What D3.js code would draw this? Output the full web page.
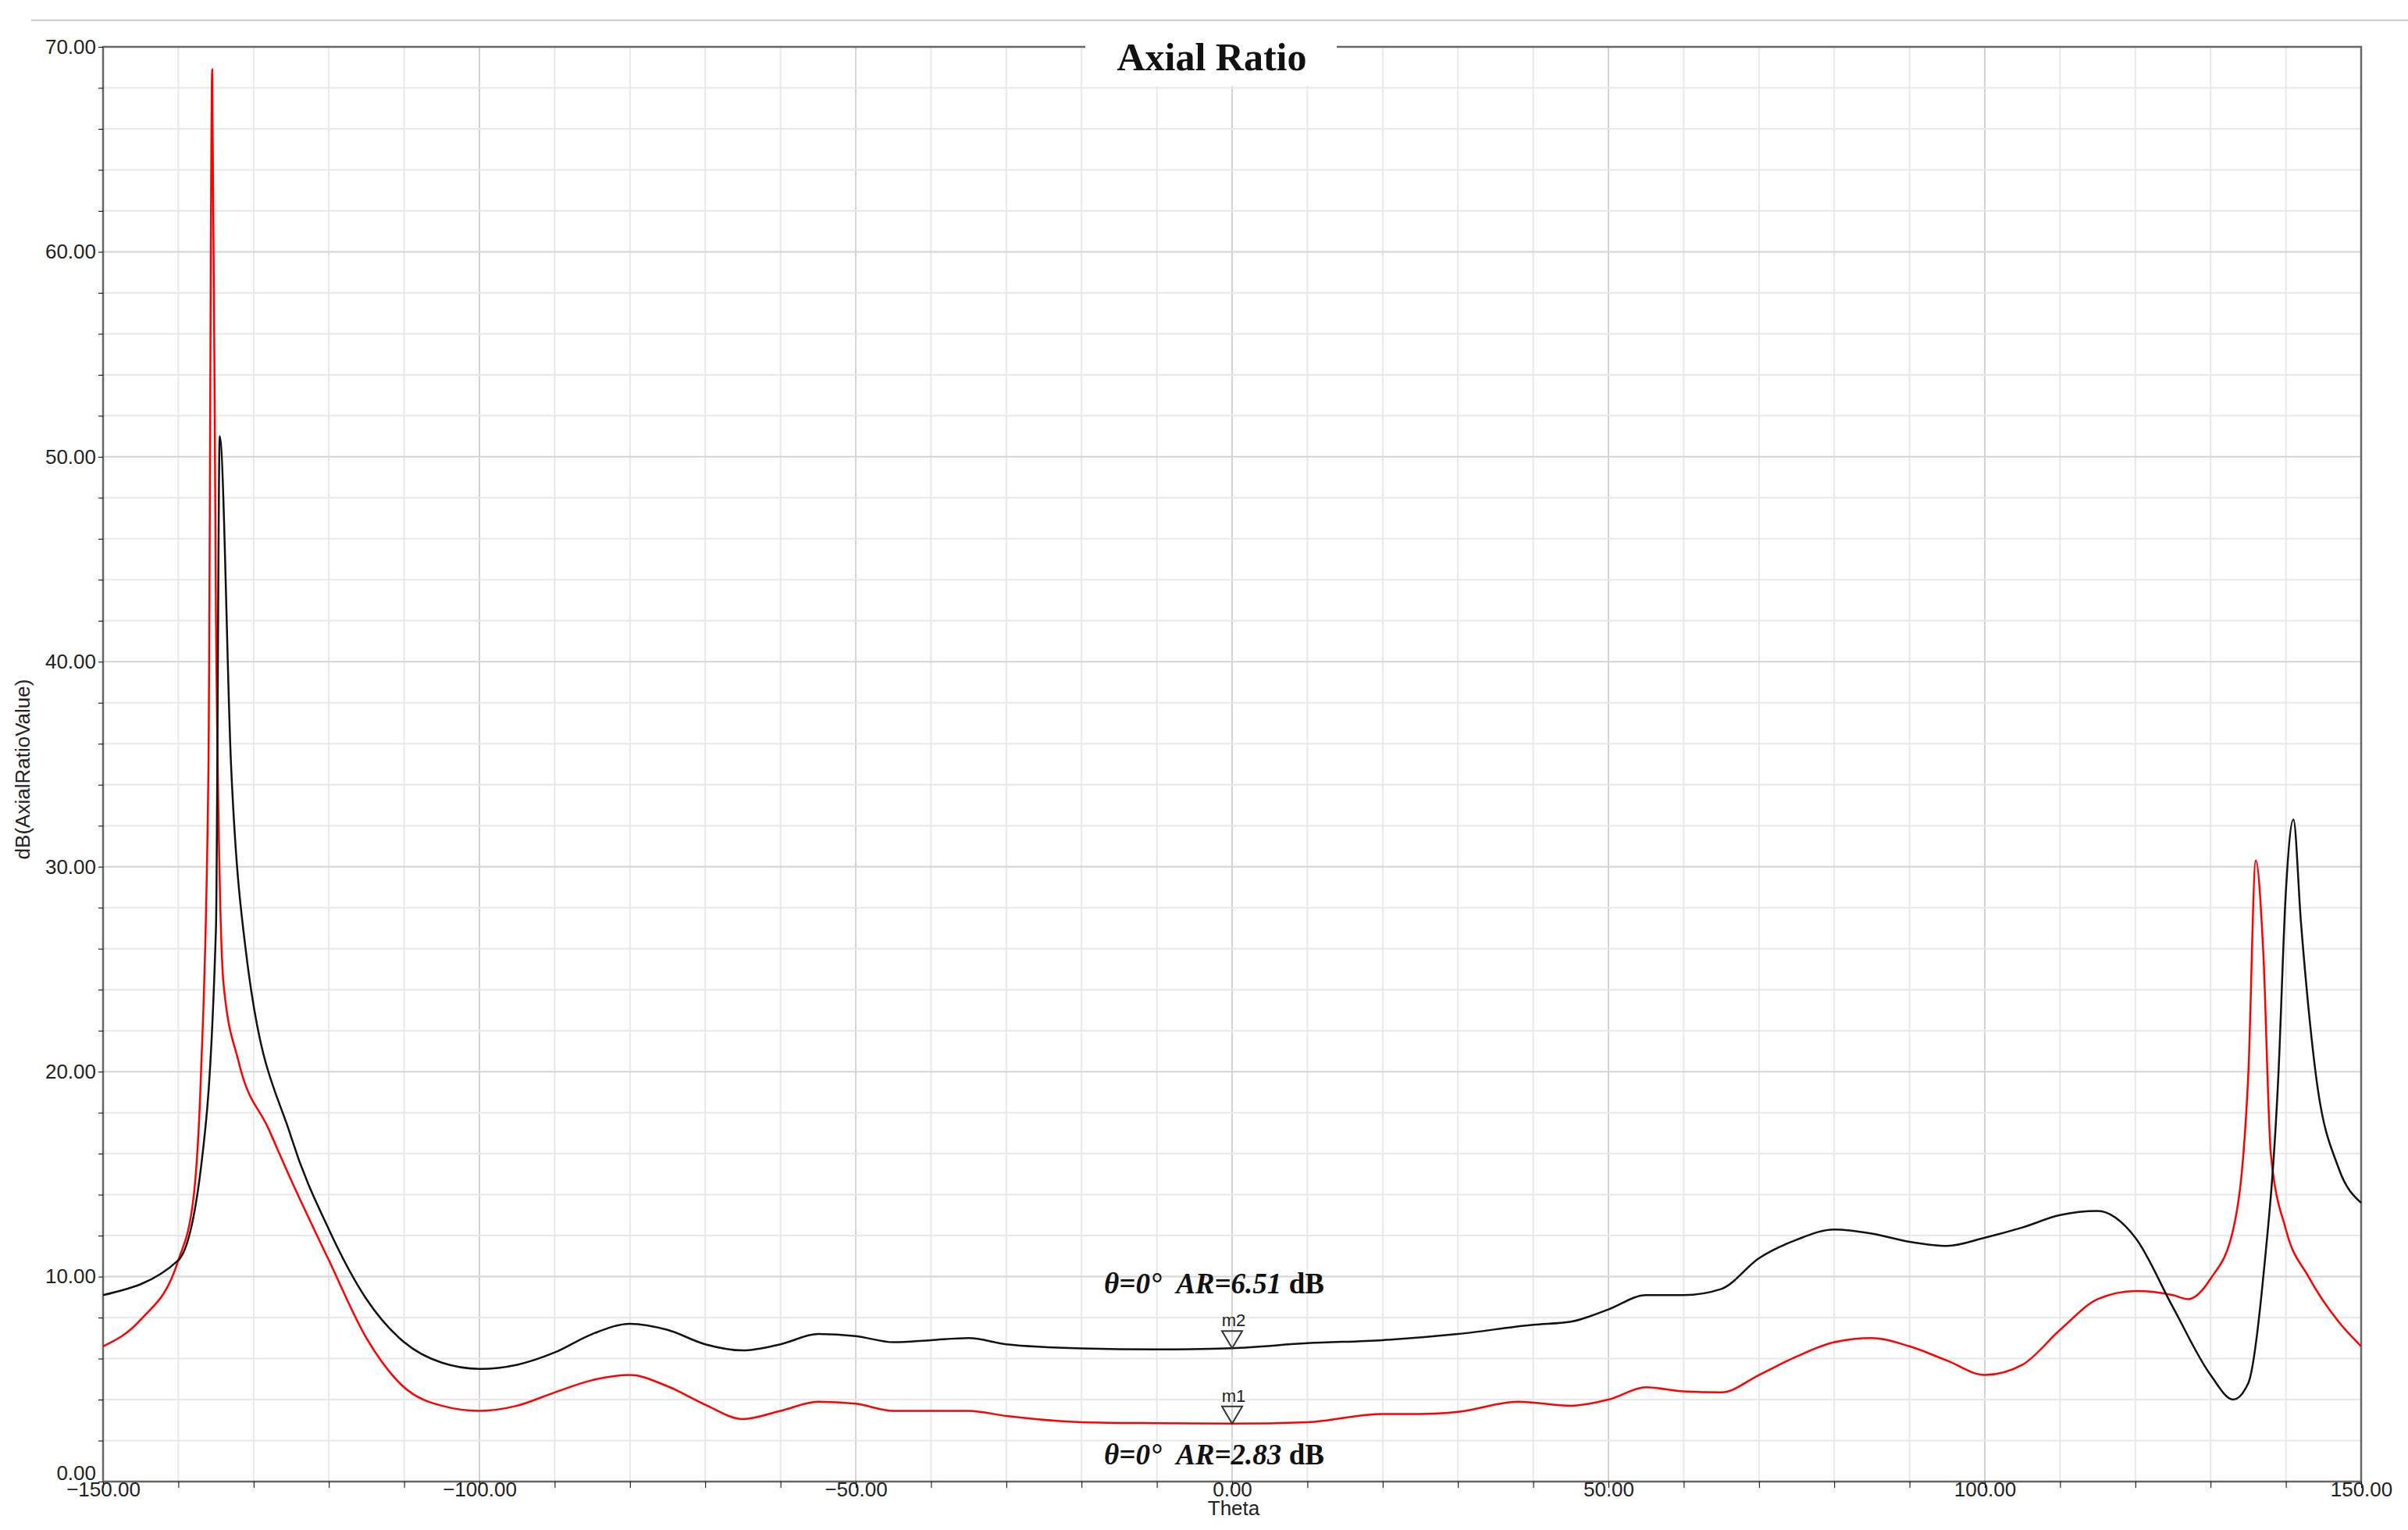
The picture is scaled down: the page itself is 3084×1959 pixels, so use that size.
<!DOCTYPE html>
<html><head><meta charset="utf-8">
<script src="https://cdn.jsdelivr.net/npm/d3@7"></script>
<style>body{margin:0;background:#fff}</style></head>
<body><svg id="c" width="3084" height="1959"></svg>
<script>
const xTicks=[-150,-100,-50,0,50,100,150];
const yTicks=[0,10,20,30,40,50,60,70];
const blackTheta=[-150,-140,-137,-135,-134.5,-133,-131,-125,-120,-115,-110,-105,-100,-95,-90,-85,-80,-75,-70,-65,-60,-55,-50,-45,-40,-35,-30,-20,-10,0,10,20,30,40,45,50,55,60,65,70,75,80,85,90,95,100,105,110,115,120,125,130,133,135,137,139,140,141,142,144,147,150];
const blackAR=[9.1,10.8,15.3,27,51,35,25.8,16.8,12.3,8.9,6.8,5.8,5.5,5.7,6.3,7.2,7.7,7.4,6.7,6.4,6.7,7.2,7.1,6.8,6.9,7.0,6.7,6.5,6.45,6.51,6.75,6.9,7.2,7.65,7.8,8.4,9.1,9.1,9.4,10.9,11.8,12.3,12.1,11.7,11.5,11.9,12.4,13.0,13.2,11.9,8.5,5.2,4.0,4.8,10,19.8,28.8,32.3,27.3,19.8,15.3,13.6];
const redTheta=[-150,-145,-140,-138,-137,-136,-135.5,-135,-134,-132,-128,-125,-120,-115,-110,-105,-100,-95,-90,-85,-80,-75,-70,-65,-60,-55,-50,-45,-40,-35,-30,-20,-10,0,10,20,25,30,38,45,50,55,60,65,70,75,80,85,90,95,100,105,110,115,120,125,127,130,133,135,136,137,138,140,143,147,150];
const redAR=[6.6,7.9,10.8,13.8,19.8,34.8,68.9,42,24.3,20.5,17.2,14.7,10.8,7,4.6,3.7,3.45,3.7,4.35,4.95,5.2,4.65,3.75,3.05,3.45,3.9,3.8,3.45,3.45,3.45,3.2,2.9,2.85,2.83,2.9,3.3,3.3,3.4,3.9,3.7,4.0,4.6,4.4,4.35,5.2,6.1,6.8,7.0,6.6,5.9,5.2,5.7,7.4,8.9,9.3,9.1,8.9,9.9,12.3,19.8,30.3,25.8,16,12.3,10,7.8,6.6];
const markers=[{name:"m2",theta:0,val:6.51},{name:"m1",theta:0,val:2.83}];

const svg=d3.select("#c");
const L=132,R=3024,T=60,B=1897;
const x=d3.scaleLinear().domain([-150,150]).range([L,R]);
const y=d3.scaleLinear().domain([0,70]).range([B,T]);

svg.append("line").attr("x1",40).attr("x2",3084).attr("y1",26).attr("y2",26).attr("stroke","#ccc").attr("stroke-width",2);

const g=svg.append("g");
g.append("g").selectAll("line").data(d3.range(-150,151,10)).join("line")
 .attr("x1",d=>x(d)).attr("x2",d=>x(d)).attr("y1",T).attr("y2",B)
 .attr("stroke",d=>d%50===0?"#d4d4d4":"#e8e8e8").attr("stroke-width",2);
g.append("g").selectAll("line").data(d3.range(0,71,2)).join("line")
 .attr("y1",d=>y(d)).attr("y2",d=>y(d)).attr("x1",L).attr("x2",R)
 .attr("stroke",d=>d%10===0?"#d4d4d4":"#e8e8e8").attr("stroke-width",2);

svg.append("rect").attr("x",L).attr("y",T).attr("width",R-L).attr("height",B-T).attr("fill","none").attr("stroke","#666").attr("stroke-width",2.5);

const xa=svg.append("g").attr("transform",`translate(0,${B})`).call(d3.axisBottom(x).tickValues(d3.range(-150,151,10)).tickSize(8).tickFormat(d=>xTicks.includes(d)?d3.format(".2f")(d).replace("-","\u2212"):""));
xa.select(".domain").remove();
xa.selectAll("text").attr("font-family","Arial, Liberation Sans").attr("font-size",26).attr("fill","#222").attr("dy","0.3em");
const ya=svg.append("g").attr("transform",`translate(${L},0)`).call(d3.axisLeft(y).tickValues(d3.range(0,71,2)).tickSize(6).tickFormat(d=>yTicks.includes(d)?d3.format(".2f")(d):""));
ya.select(".domain").remove();
ya.selectAll("text").attr("font-family","Arial, Liberation Sans").attr("font-size",26).attr("fill","#222");
ya.selectAll("text").filter(d=>d===0).attr("dy","-0.1em");

const line=d3.line().x(d=>x(d[0])).y(d=>y(d[1])).curve(d3.curveMonotoneX);
svg.append("path").datum(redTheta.map((t,i)=>[t,redAR[i]])).attr("d",line).attr("fill","none").attr("stroke","#ff0000").attr("stroke-width",2.5);
svg.append("path").datum(blackTheta.map((t,i)=>[t,blackAR[i]])).attr("d",line).attr("fill","none").attr("stroke","#111").attr("stroke-width",2.5);

markers.forEach(m=>{
 const cx=x(m.theta),cy=y(m.val);
 svg.append("path").attr("d",`M${cx-13},${cy-22}L${cx+13},${cy-22}L${cx},${cy}Z`).attr("fill","none").attr("stroke","#333").attr("stroke-width",2);
 svg.append("text").attr("x",cx+2).attr("y",cy-28).attr("text-anchor","middle").attr("font-family","Arial, Liberation Sans").attr("font-size",22).attr("fill","#222").text(m.name);
});

function ann(yy,val){
 const t=svg.append("text").attr("x",1555).attr("y",yy).attr("text-anchor","middle").attr("xml:space","preserve").style("white-space","pre").attr("font-family","Liberation Serif, Times New Roman").attr("font-size",37).attr("font-weight","bold").attr("fill","#111");
 t.append("tspan").attr("font-style","italic").text("θ=0°\u00a0\u00a0AR="+val);
 t.append("tspan").text("\u00a0dB");
}
ann(1656,"6.51");ann(1875,"2.83");

svg.append("rect").attr("x",1390).attr("y",40).attr("width",322).attr("height",70).attr("fill","#fff");
svg.append("text").attr("x",1552).attr("y",90).attr("text-anchor","middle").attr("font-family","Liberation Serif, Times New Roman").attr("font-weight","bold").attr("font-size",50).attr("fill","#111").text("Axial Ratio");

svg.append("text").attr("x",1580).attr("y",1940).attr("text-anchor","middle").attr("font-family","Arial, Liberation Sans").attr("font-size",26).attr("fill","#222").text("Theta");
svg.append("text").attr("transform","translate(38,985) rotate(-90)").attr("text-anchor","middle").attr("font-family","Arial, Liberation Sans").attr("font-size",26).attr("fill","#222").text("dB(AxialRatioValue)");
</script></body></html>
